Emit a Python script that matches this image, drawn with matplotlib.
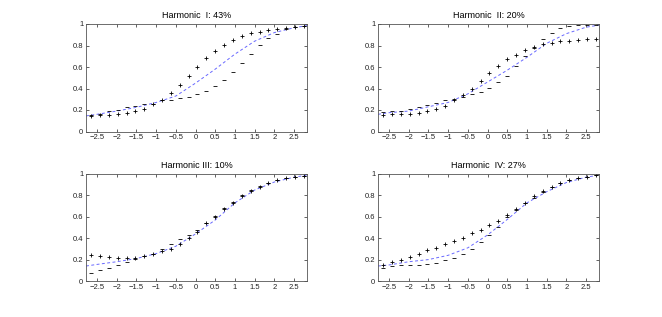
import matplotlib
matplotlib.use("Agg")
import matplotlib.pyplot as plt

plt.rcParams['font.family'] = ['Liberation Sans', 'DejaVu Sans']

# sample positions of the observed points
x_pts = [-2.65, -2.425, -2.2, -1.975, -1.75, -1.525, -1.3, -1.075, -0.85, -0.625,
         -0.4, -0.175, 0.05, 0.275, 0.5, 0.725, 0.95, 1.175, 1.4, 1.625,
         1.85, 2.075, 2.3, 2.525, 2.75]

# model curve positions
x_curve = [-2.78, -2.5, -2.0, -1.5, -1.0, -0.5, 0.0, 0.5, 1.0, 1.5, 2.0, 2.5, 2.83]

titles = ["Harmonic  I: 43%", "Harmonic  II: 20%", "Harmonic III: 10%", "Harmonic  IV: 27%"]

plus_I = [0.147, 0.156, 0.153, 0.162, 0.172, 0.194, 0.209, 0.256, 0.294, 0.362,
          0.434, 0.512, 0.600, 0.684, 0.750, 0.806, 0.850, 0.884, 0.912, 0.930,
          0.944, 0.950, 0.960, 0.970, 0.980]
minus_I = [0.155, 0.16, 0.19, 0.203, 0.225, 0.240, 0.256, 0.260, 0.294, 0.297,
           0.310, 0.325, 0.350, 0.380, 0.420, 0.480, 0.550, 0.634, 0.722, 0.806,
           0.870, 0.910, 0.950, 0.970, 0.980]
curve_I = [0.145, 0.16, 0.19, 0.225, 0.27, 0.33, 0.45, 0.58, 0.72, 0.84, 0.92, 0.965, 0.985]

plus_II = [0.155, 0.16, 0.162, 0.162, 0.175, 0.19, 0.21, 0.235, 0.29, 0.335,
           0.397, 0.47, 0.544, 0.606, 0.67, 0.716, 0.76, 0.79, 0.81, 0.825,
           0.84, 0.84, 0.85, 0.856, 0.86]
minus_II = [0.18, 0.19, 0.195, 0.205, 0.225, 0.245, 0.265, 0.29, 0.30, 0.32,
            0.345, 0.365, 0.405, 0.46, 0.52, 0.606, 0.70, 0.78, 0.865, 0.92,
            0.96, 0.985, 0.99, 0.99, 0.99]
curve_II = [0.16, 0.175, 0.19, 0.23, 0.27, 0.35, 0.46, 0.57, 0.69, 0.82, 0.91, 0.97, 0.99]

plus_III = [0.247, 0.234, 0.225, 0.219, 0.219, 0.219, 0.231, 0.25, 0.278, 0.303,
            0.35, 0.40, 0.46, 0.54, 0.60, 0.67, 0.73, 0.79, 0.84, 0.88,
            0.92, 0.944, 0.96, 0.975, 0.984]
minus_III = [0.078, 0.10, 0.125, 0.147, 0.178, 0.203, 0.231, 0.256, 0.30, 0.35,
             0.394, 0.428, 0.48, 0.544, 0.606, 0.678, 0.74, 0.80, 0.85, 0.89,
             0.92, 0.944, 0.96, 0.975, 0.984]
curve_III = [0.14, 0.155, 0.18, 0.21, 0.256, 0.325, 0.44, 0.57, 0.73, 0.85, 0.925, 0.97, 0.99]

plus_IV = [0.15, 0.175, 0.20, 0.225, 0.256, 0.288, 0.312, 0.35, 0.378, 0.406,
           0.444, 0.48, 0.52, 0.562, 0.616, 0.67, 0.73, 0.79, 0.84, 0.88,
           0.912, 0.944, 0.96, 0.975, 0.988]
minus_IV = [0.12, 0.14, 0.147, 0.147, 0.153, 0.162, 0.169, 0.194, 0.219, 0.256,
            0.30, 0.362, 0.428, 0.506, 0.594, 0.66, 0.725, 0.78, 0.834, 0.875,
            0.912, 0.944, 0.96, 0.975, 0.988]
curve_IV = [0.14, 0.15, 0.18, 0.20, 0.24, 0.31, 0.43, 0.575, 0.73, 0.834, 0.92, 0.97, 0.99]

panels = [(plus_I, minus_I, curve_I), (plus_II, minus_II, curve_II),
          (plus_III, minus_III, curve_III), (plus_IV, minus_IV, curve_IV)]

xticks = [-2.5, -2, -1.5, -1, -0.5, 0, 0.5, 1, 1.5, 2, 2.5]
xticklabels = ["\u22122.5", "\u22122", "\u22121.5", "\u22121", "\u22120.5", "0",
               "0.5", "1", "1.5", "2", "2.5"]
yticks = [0, 0.2, 0.4, 0.6, 0.8, 1]
yticklabels = ["0", "0.2", "0.4", "0.6", "0.8", "1"]

W, H = 662, 317
fig = plt.figure(figsize=(W / 100, H / 100), dpi=100)

boxes = [(86, 24, 221, 107.5), (378, 24, 221, 107.5),
         (86, 174, 221, 107), (378, 174, 221, 107)]

for (l, t, w, h), title, (pp, mm, cc) in zip(boxes, titles, panels):
    ax = fig.add_axes([l / W, 1 - (t + h) / H, w / W, h / H])
    ax.plot(x_curve, cc, linestyle=(0, (3, 2.5)), color='#6868ff', linewidth=0.7)
    ax.plot(x_pts, pp, linestyle='none', marker='+', color='black',
            markersize=3.5, markeredgewidth=0.6)
    ax.plot(x_pts, mm, linestyle='none', marker='_', color='black',
            markersize=3.5, markeredgewidth=0.6)
    ax.set_xlim(-2.78, 2.83)
    ax.set_ylim(0, 1)
    ax.set_xticks(xticks)
    ax.set_xticklabels(xticklabels)
    ax.set_yticks(yticks)
    ax.set_yticklabels(yticklabels)
    ax.tick_params(direction='in', length=2.5, width=0.5, labelsize=5.5,
                   top=True, right=True, pad=2, colors='#222222')
    for s in ax.spines.values():
        s.set_linewidth(0.6)
        s.set_color('#555555')
    ax.set_title(title, fontsize=6.5, pad=4)

fig.savefig("out.png", dpi=100)
